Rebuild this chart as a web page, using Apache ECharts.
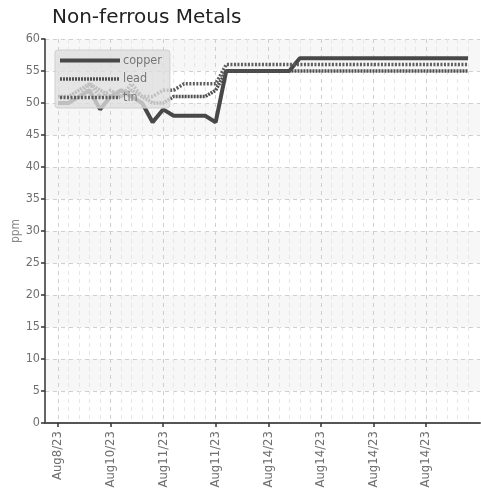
<!DOCTYPE html>
<html>
<head>
<meta charset="utf-8">
<script src="https://cdn.jsdelivr.net/npm/echarts@6/dist/echarts.min.js"></script>
<style>html,body{margin:0;padding:0;background:#fff;}#c{width:481px;height:491px;}</style>
</head>
<body>
<div id="c"></div>
<script>
var categories = [
  'Aug8/23','Aug8/23','Aug9/23','Aug9/23','Aug9/23',
  'Aug10/23','Aug10/23','Aug10/23','Aug10/23','Aug10/23',
  'Aug11/23','Aug11/23','Aug11/23','Aug11/23','Aug11/23',
  'Aug11/23','Aug11/23','Aug11/23','Aug11/23','Aug11/23',
  'Aug14/23','Aug14/23','Aug14/23','Aug14/23','Aug14/23',
  'Aug14/23','Aug14/23','Aug14/23','Aug14/23','Aug14/23',
  'Aug14/23','Aug14/23','Aug14/23','Aug14/23','Aug14/23',
  'Aug14/23','Aug14/23','Aug14/23','Aug14/23','Aug14/23'
];
var copper = [50,50,51,52,49,51,52,51,50,47,49,48,48,48,48,47,55,55,55,55,55,55,55,57,57,57,57,57,57,57,57,57,57,57,57,57,57,57,57,57];
var lead   = [51,51,52,53,52,51,51,52,51,50,50,51,51,51,51,52,55,55,55,55,55,55,55,55,55,55,55,55,55,55,55,55,55,55,55,55,55,55,55,55];
var tin    = [50,50,51,53,51,52,51,53,51,51,52,52,53,53,53,53,56,56,56,56,56,56,56,56,56,56,56,56,56,56,56,56,56,56,56,56,56,56,56,56];
var yTicks = {min: 0, max: 60, interval: 5};

var condensed = 'DejaVu Sans Condensed';
var copperStyle = {width: 4, color: '#484848', type: 'solid'};
var leadStyle = {width: 3.5, color: '#505050', type: [2, 1]};
var tinStyle = {width: 3.5, color: '#5e5e5e', type: [2, 1.5]};
var hiddenDot = {color: 'rgba(0,0,0,0)', borderWidth: 0, opacity: 0};

var chart = echarts.init(document.getElementById('c'));
chart.setOption({
  animation: false,
  title: {
    text: 'Non-ferrous Metals', left: 47, top: 3,
    textStyle: {fontFamily: 'DejaVu Sans', fontSize: 20, fontWeight: 'normal', color: '#222'}
  },
  legend: {
    orient: 'vertical', left: 55, top: 50,
    itemWidth: 60, itemHeight: 12, itemGap: 5.5,
    padding: [4, 8, 4, 3],
    backgroundColor: 'rgba(222,222,222,0.78)',
    borderColor: '#cfcfcf', borderWidth: 1, borderRadius: 3,
    itemStyle: hiddenDot,
    textStyle: {fontFamily: condensed, fontSize: 12.5, color: '#777', padding: [0,0,0,-2]},
    data: [
      {name: 'copper', itemStyle: hiddenDot, lineStyle: copperStyle},
      {name: 'lead', itemStyle: hiddenDot, lineStyle: leadStyle},
      {name: 'tin', itemStyle: hiddenDot, lineStyle: tinStyle}
    ]
  },
  grid: [
    {left: 45, right: 1, top: 39, bottom: 68},
    {left: 58, right: 13, top: 39, bottom: 68}
  ],
  xAxis: [
    {
      gridIndex: 0, type: 'value', min: 0, max: 1,
      axisLine: {show: true, lineStyle: {color: '#555', width: 2}},
      axisTick: {show: false}, axisLabel: {show: false}, splitLine: {show: false}
    },
    {
      gridIndex: 1, type: 'category', boundaryGap: false, data: categories, z: 2,
      axisLine: {show: false},
      axisTick: {show: true, interval: function (i) { return i % 5 === 0; }, length: 4, lineStyle: {color: '#333', width: 1.5}},
      axisLabel: {
        interval: function (i) { return i % 5 === 0; }, rotate: 90, margin: 8,
        fontFamily: condensed, fontSize: 13, color: '#707070'
      },
      splitLine: {show: true, interval: 0, lineStyle: {type: [4, 4], color: ['#cfcfcf', '#e6e6e6', '#e6e6e6', '#e6e6e6', '#e6e6e6'], width: 1}}
    }
  ],
  yAxis: [
    {
      gridIndex: 0, type: 'value', min: yTicks.min, max: yTicks.max, interval: yTicks.interval,
      name: 'ppm', nameLocation: 'middle', nameGap: 23, nameRotate: 90, nameMoveOverlap: false,
      nameTextStyle: {fontFamily: condensed, fontSize: 12, color: '#888'},
      axisLine: {show: true, lineStyle: {color: '#333', width: 1.5}},
      axisTick: {show: true, length: 4, lineStyle: {color: '#333', width: 1.5}},
      axisLabel: {fontFamily: condensed, fontSize: 12.5, color: '#707070', margin: 5},
      splitLine: {show: true, lineStyle: {type: [4, 4], color: '#cfcfcf'}},
      splitArea: {show: true, areaStyle: {color: ['rgba(255,255,255,0)', '#f7f7f7']}}
    },
    {
      gridIndex: 1, type: 'value', min: yTicks.min, max: yTicks.max, show: false
    }
  ],
  series: [
    {
      name: 'copper', type: 'line', xAxisIndex: 1, yAxisIndex: 1, data: copper,
      symbol: 'none', color: '#484848', lineStyle: copperStyle
    },
    {
      name: 'lead', type: 'line', xAxisIndex: 1, yAxisIndex: 1, data: lead,
      symbol: 'none', color: '#505050', lineStyle: leadStyle
    },
    {
      name: 'tin', type: 'line', xAxisIndex: 1, yAxisIndex: 1, data: tin,
      symbol: 'none', color: '#5e5e5e', lineStyle: tinStyle
    }
  ]
});
</script>
</body>
</html>
